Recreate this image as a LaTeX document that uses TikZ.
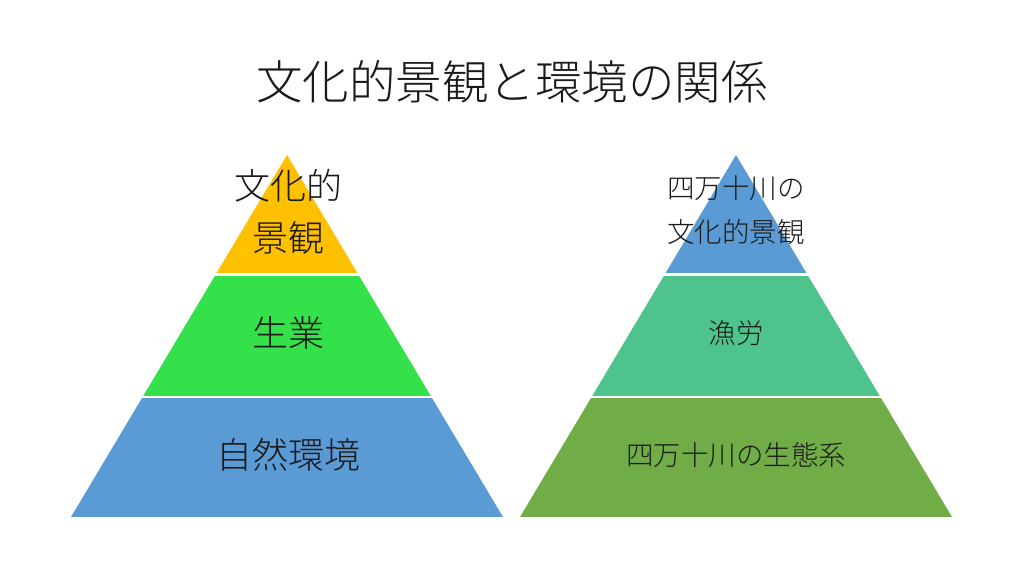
\documentclass[tikz,border=0pt]{standalone}
\usepackage{fontspec}
\newfontfamily\cjk{Noto Sans CJK JP}[UprightFont=* Light]
\definecolor{cgold}{HTML}{FFC000}
\definecolor{cgreen}{HTML}{35E14B}
\definecolor{cblue}{HTML}{5B9BD5}
\definecolor{cteal}{HTML}{4EC48C}
\definecolor{colive}{HTML}{70AD47}
\definecolor{ctext}{HTML}{1A1A1A}
\tikzset{
  lbl/.style={text=ctext, inner sep=0pt, align=center, font=\cjk\fontsize{36}{52}\selectfont},
  rlbl/.style={text=ctext, inner sep=0pt, align=center, font=\cjk\fontsize{27.5}{44}\selectfont},
  ttl/.style={text=ctext, inner sep=0pt, font=\cjk\fontsize{46.5}{50}\selectfont}
}
\begin{document}
\begin{tikzpicture}[x=1pt,y=-1pt]
\useasboundingbox (0,0) rectangle (1024,576);
\fill[white] (0,0) rectangle (1024,576);
% left pyramid
\begin{scope}
\clip (287,155) -- (503,517) -- (71,517) -- cycle;
\fill[cgold] (60,150) rectangle (520,273);
\fill[cgreen] (60,275.5) rectangle (520,395.5);
\fill[cblue] (60,397.5) rectangle (520,517);
\end{scope}
% right pyramid
\begin{scope}
\clip (736,155) -- (952,517) -- (520,517) -- cycle;
\fill[cblue] (510,150) rectangle (960,273);
\fill[cteal] (510,275.5) rectangle (960,395.5);
\fill[colive] (510,397.5) rectangle (960,517);
\end{scope}
\node[ttl] (title) at (512,82) {文化的景観と環境の関係};
\node[lbl] (l1) at (288,212) {文化的\\景観};
\node[lbl] (l2) at (288,333) {生業};
\node[lbl] (l3) at (288,455) {自然環境};
\node[rlbl] (r1) at (736,210) {四万十川の\\文化的景観};
\node[rlbl] (r2) at (736,333) {漁労};
\node[rlbl] (r3) at (736,455) {四万十川の生態系};
\end{tikzpicture}
\end{document}
